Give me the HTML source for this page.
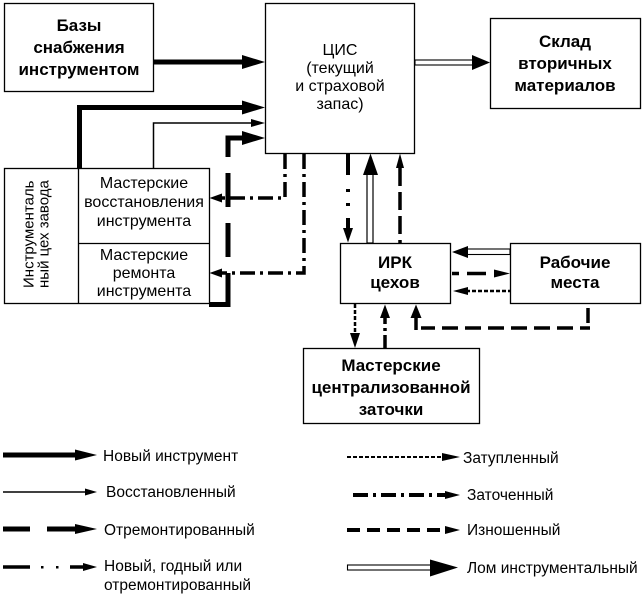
<!DOCTYPE html>
<html>
<head>
<meta charset="utf-8">
<style>
html,body{margin:0;padding:0;background:#fff;}
svg{display:block;}
text{font-family:"Liberation Sans","DejaVu Sans",sans-serif;fill:#000;}
.b{font-weight:bold;font-size:17px;}
.r{font-size:16px;}
.lg{font-size:15.5px;}
</style>
</head>
<body>
<svg width="642" height="594" viewBox="0 0 642 594" xmlns="http://www.w3.org/2000/svg">
<rect width="642" height="594" fill="#fff"/>

<!-- ===== Boxes ===== -->
<g fill="none" stroke="#000" stroke-width="1.3">
  <rect x="4.5" y="3.5" width="149" height="88"/>
  <rect x="265.5" y="3.5" width="149" height="150"/>
  <rect x="490.5" y="18.5" width="150" height="90"/>
  <rect x="4.5" y="168.5" width="205" height="135"/>
  <line x1="78.5" y1="168.5" x2="78.5" y2="303.5"/>
  <line x1="78.5" y1="243.5" x2="209.5" y2="243.5"/>
  <rect x="340.5" y="243.5" width="110" height="60"/>
  <rect x="510.5" y="243.5" width="130" height="60"/>
  <rect x="303.5" y="348.5" width="176" height="75"/>
</g>

<!-- ===== Box texts ===== -->
<g text-anchor="middle">
  <text class="b" x="79" y="31">Базы</text>
  <text class="b" x="79" y="53">снабжения</text>
  <text class="b" x="79" y="75">инструментом</text>

  <text class="r" x="340" y="55">ЦИС</text>
  <text class="r" x="340" y="73">(текущий</text>
  <text class="r" x="340" y="91">и страховой</text>
  <text class="r" x="340" y="109">запас)</text>

  <text class="b" x="565" y="47">Склад</text>
  <text class="b" x="565" y="69">вторичных</text>
  <text class="b" x="565" y="91">материалов</text>

  <text class="r" x="144" y="188">Мастерские</text>
  <text class="r" x="144" y="207">восстановления</text>
  <text class="r" x="144" y="226">инструмента</text>
  <text class="r" x="144" y="260">Мастерские</text>
  <text class="r" x="144" y="278">ремонта</text>
  <text class="r" x="144" y="296">инструмента</text>

  <text class="b" x="395" y="268">ИРК</text>
  <text class="b" x="395" y="288">цехов</text>

  <text class="b" x="575" y="268">Рабочие</text>
  <text class="b" x="575" y="288">места</text>

  <text class="b" x="391" y="371">Мастерские</text>
  <text class="b" x="391" y="393">централизованной</text>
  <text class="b" x="391" y="415">заточки</text>
</g>
<text font-size="15" transform="translate(33.5,288) rotate(-90)">Инструменталь</text>
<text font-size="15" transform="translate(48.5,288) rotate(-90)">ный цех завода</text>

<!-- ===== Connectors ===== -->
<!-- Bases -> CIS (new, thick) -->
<line x1="153" y1="62" x2="244" y2="62" stroke="#000" stroke-width="5"/>
<polygon points="242,55 265,62 242,69" fill="#000"/>

<!-- Tool shop -> CIS thick -->
<polyline points="79.5,168 79.5,107.5 244,107.5" fill="none" stroke="#000" stroke-width="5"/>
<polygon points="242,100.5 265,107.5 242,114.5" fill="#000"/>

<!-- Tool shop -> CIS thin -->
<polyline points="153.5,168 153.5,123 253,123" fill="none" stroke="#000" stroke-width="1.5"/>
<polygon points="251,119 265,123 251,127" fill="#000"/>

<!-- Repaired thick dashed -->
<g stroke="#000" stroke-width="5" fill="none">
  <line x1="209" y1="304.5" x2="230.5" y2="304.5"/>
  <line x1="228" y1="307" x2="228" y2="273"/>
  <line x1="228" y1="257" x2="228" y2="223"/>
  <line x1="228" y1="207" x2="228" y2="173"/>
  <polyline points="228,157 228,138 244,138"/>
</g>
<polygon points="242,131 265,138 242,145" fill="#000"/>

<!-- Sharpened dash-dot from CIS to workshops -->
<g stroke="#000" stroke-width="3.5" fill="none" stroke-dasharray="15 5 3 5">
  <polyline points="285,154 285,198 222,198"/>
  <polyline points="304,154 304,273 222,273"/>
</g>
<polygon points="222,193.5 209.5,198 222,202.5" fill="#000"/>
<polygon points="222,268.5 209.5,273 222,277.5" fill="#000"/>

<!-- New/good dash-dot-dot CIS -> IRK -->
<g stroke="#000" stroke-width="4">
  <line x1="348" y1="154" x2="348" y2="175"/>
  <line x1="348" y1="189" x2="348" y2="192"/>
  <line x1="348" y1="203" x2="348" y2="206"/>
  <line x1="348" y1="218" x2="348" y2="229"/>
</g>
<polygon points="343,228 353,228 348,242.5" fill="#000"/>

<!-- Scrap double line IRK -> CIS -->
<rect x="367" y="174" width="6" height="69" fill="#fff" stroke="#000" stroke-width="1.2"/>
<polygon points="363,175 378,175 370.5,153.5" fill="#000"/>

<!-- Worn dashed IRK -> CIS -->
<line x1="400" y1="243" x2="400" y2="166" stroke="#000" stroke-width="3.5" stroke-dasharray="3 6 18 6 18 6 18 6"/>
<polygon points="396,168 404,168 400,153.5" fill="#000"/>

<!-- CIS -> Sklad double -->
<rect x="415" y="60" width="58" height="5" fill="#fff" stroke="#000" stroke-width="1.1"/>
<polygon points="472,55 472,70 490,62.5" fill="#000"/>

<!-- Rabochie -> IRK double (scrap) -->
<rect x="466" y="249" width="44" height="5.5" fill="#fff" stroke="#000" stroke-width="1.1"/>
<polygon points="468,246 468,258 452,252" fill="#000"/>

<!-- IRK -> Rabochie dashed -->
<line x1="452" y1="273.5" x2="495" y2="273.5" stroke="#000" stroke-width="3.5" stroke-dasharray="7 8 19 8"/>
<polygon points="494,269.5 494,277.5 510,273.5" fill="#000"/>

<!-- Rabochie -> IRK dotted (blunt) -->
<line x1="466" y1="291" x2="510" y2="291" stroke="#000" stroke-width="2.5" stroke-dasharray="4 2"/>
<polygon points="468,287 468,295 453,291" fill="#000"/>

<!-- Rabochie -> IRK worn dashed loop -->
<g stroke="#000" stroke-width="3.5" fill="none">
  <line x1="588" y1="308" x2="588" y2="323"/>
  <line x1="590" y1="328" x2="421" y2="328" stroke-dasharray="10 7 16 7 16 7 16 7 16 7 16 7 16 7 16 7 16"/>
  <line x1="416" y1="330" x2="416" y2="316"/>
</g>
<polygon points="410.5,318 421.5,318 416,304.5" fill="#000"/>

<!-- IRK -> sharpening dotted -->
<line x1="355" y1="304" x2="355" y2="334" stroke="#000" stroke-width="2.5" stroke-dasharray="4 2"/>
<polygon points="350,333 360,333 355,348" fill="#000"/>

<!-- sharpening -> IRK dash-dot -->
<line x1="385" y1="348" x2="385" y2="316" stroke="#000" stroke-width="3.5" stroke-dasharray="13 4 3 4"/>
<polygon points="380,318 390,318 385,304.5" fill="#000"/>

<!-- ===== Legend left ===== -->
<line x1="3" y1="455" x2="78" y2="455" stroke="#000" stroke-width="5"/>
<polygon points="75,449.5 97,455 75,460.5" fill="#000"/>
<text class="lg" x="103" y="461">Новый инструмент</text>

<line x1="3" y1="492" x2="87" y2="492" stroke="#000" stroke-width="1.5"/>
<polygon points="85,488.5 97,492 85,495.5" fill="#000"/>
<text class="lg" x="106" y="497">Восстановленный</text>

<line x1="3" y1="529" x2="30" y2="529" stroke="#000" stroke-width="5"/>
<line x1="47" y1="529" x2="78" y2="529" stroke="#000" stroke-width="5"/>
<polygon points="75,524 97,529 75,534" fill="#000"/>
<text class="lg" x="104" y="535">Отремонтированный</text>

<line x1="3" y1="567" x2="30" y2="567" stroke="#000" stroke-width="3.5"/>
<rect x="41" y="566" width="2.5" height="2.5" fill="#000"/>
<rect x="56" y="566" width="2.5" height="2.5" fill="#000"/>
<line x1="70" y1="567" x2="85" y2="567" stroke="#000" stroke-width="3.5"/>
<polygon points="83,563 97,567 83,571" fill="#000"/>
<text class="lg" x="104" y="571">Новый, годный или</text>
<text class="lg" x="104" y="590">отремонтированный</text>

<!-- ===== Legend right ===== -->
<line x1="347" y1="457" x2="444" y2="457" stroke="#000" stroke-width="2" stroke-dasharray="4 2"/>
<polygon points="442,453 460,457 442,461" fill="#000"/>
<text class="lg" x="463" y="463">Затупленный</text>

<line x1="353" y1="495" x2="447" y2="495" stroke="#000" stroke-width="4" stroke-dasharray="15 5 3 5"/>
<polygon points="445,491 460,495 445,499" fill="#000"/>
<text class="lg" x="467" y="500">Заточенный</text>

<line x1="347" y1="530" x2="447" y2="530" stroke="#000" stroke-width="4" stroke-dasharray="13 7"/>
<polygon points="445,526 460,530 445,534" fill="#000"/>
<text class="lg" x="467" y="535">Изношенный</text>

<rect x="347.5" y="565" width="84" height="5" fill="#fff" stroke="#000" stroke-width="1.1"/>
<polygon points="430,559.5 458,567.5 430,576.5" fill="#000"/>
<text class="lg" x="467" y="573">Лом инструментальный</text>

</svg>
</body>
</html>
